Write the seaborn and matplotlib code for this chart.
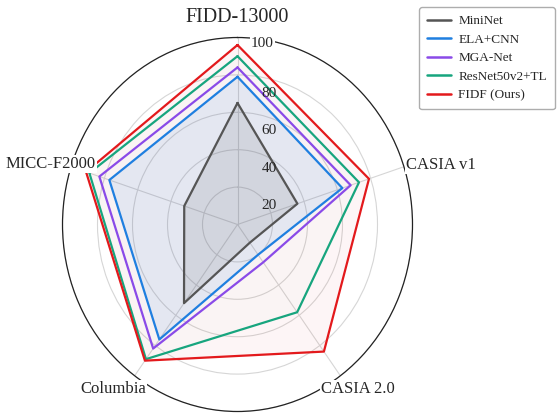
import numpy as np
import pandas as pd
import matplotlib
matplotlib.use("Agg")
import matplotlib.pyplot as plt
from matplotlib.lines import Line2D
import seaborn as sns

# données (scores en %)
datasets = ["FIDD-13000", "CASIA v1", "CASIA 2.0", "Columbia", "MICC-F2000"]
models = ["MiniNet", "ELA+CNN", "MGA-Net", "ResNet50v2+TL", "FIDF (Ours)"]
mininet = [65, 36, 12, 52, 32]
ela_cnn = [79, 63, 20, 76, 77]
mga_net = [84, 68, 25, 82, 83]
resnet_tl = [90, 73, 58, 89, 89]
fidf = [96, 79, 84, 90, 91]
r_ticks = [20, 40, 60, 80, 100]

colors = ["#555555", "#1f7fe0", "#8a4ae8", "#17a57e", "#e3191c"]
fill_alpha = [0.12, 0.09, 0.012, 0.012, 0.04]

sns.set_theme(style="white")
plt.rcParams["font.family"] = ["Liberation Serif", "DejaVu Serif"]

angles = np.linspace(0, 2 * np.pi, len(datasets), endpoint=False)
theta = np.concatenate([angles, [2 * np.pi]])

rows = []
for name, vals in zip(models, [mininet, ela_cnn, mga_net, resnet_tl, fidf]):
    closed = list(vals) + [vals[0]]
    for t, v in zip(theta, closed):
        rows.append({"model": name, "theta": t, "score": v})
df = pd.DataFrame(rows)

fig = plt.figure(figsize=(5.58, 4.18), dpi=100)
ax = fig.add_axes([62.5 / 558, 6.5 / 418, 350 / 558, 374 / 418], projection="polar")
ax.set_theta_zero_location("N")
ax.set_theta_direction(-1)

# remplissage léger sous chaque polygone (le plus grand en dessous)
for name, col, a in reversed(list(zip(models, colors, fill_alpha))):
    sub = df[df["model"] == name]
    ax.fill(sub["theta"], sub["score"], color=col, alpha=a, lw=0, zorder=2)

sns.lineplot(data=df, x="theta", y="score", hue="model", palette=colors, sort=False,
             estimator=None, units="model", ax=ax, lw=1.6, legend=False, zorder=3)

ax.set_ylim(0, 100)
ax.set_yticks(r_ticks)
ax.set_yticklabels([])
ax.set_xticks(angles)
ax.set_xticklabels([])
ax.set_xlabel("")
ax.set_ylabel("")
ax.grid(True, color="#d6d6d6", lw=0.8)
ax.spines["polar"].set_color("#222222")
ax.spines["polar"].set_linewidth(0.9)
ax.set_aspect("auto")

# étiquettes des jeux de données
box = dict(facecolor="white", edgecolor="none", pad=0.5)
ax.text(0, 110.5, datasets[0], ha="center", va="center", fontsize=14.5)
ax.text(np.deg2rad(71.7), 101.5, datasets[1], ha="left", va="center", fontsize=12, bbox=box)
ax.text(np.deg2rad(142), 111.7, datasets[2], ha="center", va="center", fontsize=12, bbox=box)
ax.text(np.deg2rad(218.9), 113, datasets[3], ha="center", va="center", fontsize=12, bbox=box)
ax.text(np.deg2rad(286.9), 111.4, datasets[4], ha="center", va="center", fontsize=12, bbox=box)

# graduations radiales
for r in r_ticks:
    y = 0.985 if r == 100 else 0.5 + 0.5 * r / 100 - 0.05
    x = 0.571 if r == 100 else 0.59
    ax.text(x, y, str(r), transform=ax.transAxes, ha="center", va="center", fontsize=11,
            bbox=box if r == 100 else None, zorder=5)

handles = [Line2D([0], [0], color=c, lw=1.8) for c in colors]
fig.legend(handles, models, loc="upper right", bbox_to_anchor=(555 / 558, 1 - 7 / 418),
           borderaxespad=0, fontsize=9.5, frameon=True, fancybox=True, edgecolor="#999999",
           handlelength=1.8, handletextpad=0.6, labelspacing=0.48, borderpad=0.6)

fig.savefig("out.png", dpi=100)
